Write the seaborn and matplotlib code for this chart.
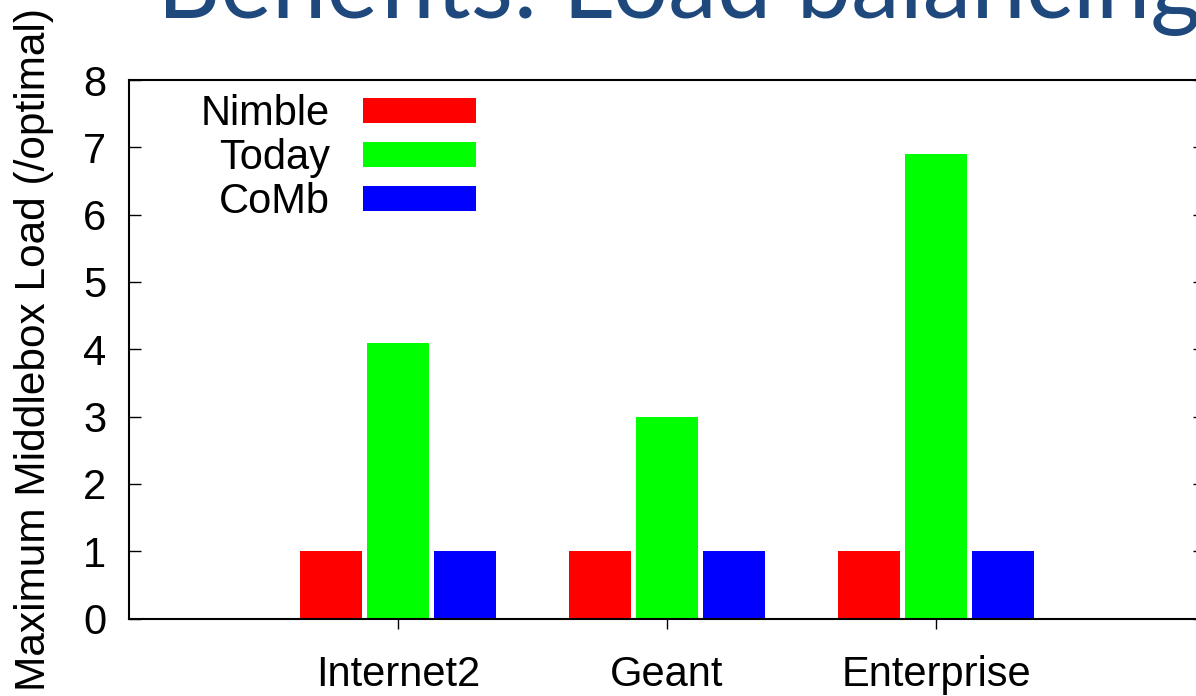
import matplotlib
matplotlib.use("Agg")
import matplotlib.pyplot as plt
import seaborn as sns
import pandas as pd

# ---- data ----
categories = ["Internet2", "Geant", "Enterprise"]
series = ["Nimble", "Today", "CoMb"]
nimble = [1.0, 1.0, 1.0]
today = [4.1, 3.0, 6.9]
comb = [1.0, 1.0, 1.0]
yticks = [0, 1, 2, 3, 4, 5, 6, 7, 8]
colors = {"Nimble": "#FF0000", "Today": "#00FF00", "CoMb": "#0000FF"}
title = "Benefits: Load balancing"
ylabel = "Maximum Middlebox Load (/optimal)"

df = pd.DataFrame({
    "category": categories * 3,
    "series": [s for s in series for _ in categories],
    "value": nimble + today + comb,
})

sns.set_theme(style="white")
plt.rcParams["font.family"] = ["Liberation Sans", "DejaVu Sans"]
plt.rcParams["text.color"] = "black"
plt.rcParams["axes.labelcolor"] = "black"
plt.rcParams["xtick.color"] = "black"
plt.rcParams["ytick.color"] = "black"

W, H = 1196, 696
fig = plt.figure(figsize=(W / 100, H / 100), dpi=100)
ax = fig.add_axes([129 / W, 77.5 / H, 1076 / W, 538.5 / H])

sns.barplot(data=df, x="category", y="value", hue="series", order=categories,
            hue_order=series, palette=colors, errorbar=None, width=0.75,
            gap=0.08, linewidth=0, saturation=1, ax=ax)

ax.set_xlim(-1, 3)
ax.set_ylim(0, 8)
ax.set_yticks(yticks)
ax.set_xlabel("")
ax.set_ylabel(ylabel, fontsize=30.5, color="black")
ax.yaxis.set_label_coords(-0.0697, 0.5)

for side in ["top", "left", "bottom", "right"]:
    ax.spines[side].set_visible(True)
    ax.spines[side].set_color("black")
    ax.spines[side].set_linewidth(1.5)

ax.tick_params(axis="y", direction="in", length=8.6, width=1.0, left=True,
               right=True, labelsize=30, pad=16.5, colors="black")
ax.tick_params(axis="x", direction="out", length=7, width=1.0, bottom=True,
               top=False, labelsize=30, pad=19, colors="black")
ax.grid(False)

sns.move_legend(ax, "upper right", bbox_to_anchor=(0.3225, 0.974),
                title=None, frameon=False, markerfirst=False, fontsize=30,
                handlelength=2.71, handleheight=0.53, handletextpad=0.8,
                labelspacing=0.1, borderpad=0, borderaxespad=0)
for txt in ax.get_legend().get_texts():
    txt.set_color("black")

# title (slide heading, partially cut at the top as in the reference)
t = fig.text(157 / W, 1 - 18 / H, title, fontsize=72, color="#1F497D",
             family=["Lato", "DejaVu Sans"], ha="left", va="baseline")
fig.canvas.draw()
wpx = t.get_window_extent().width
t.set_fontsize(72 * 1045 / wpx)

fig.savefig("out.png", dpi=100)
